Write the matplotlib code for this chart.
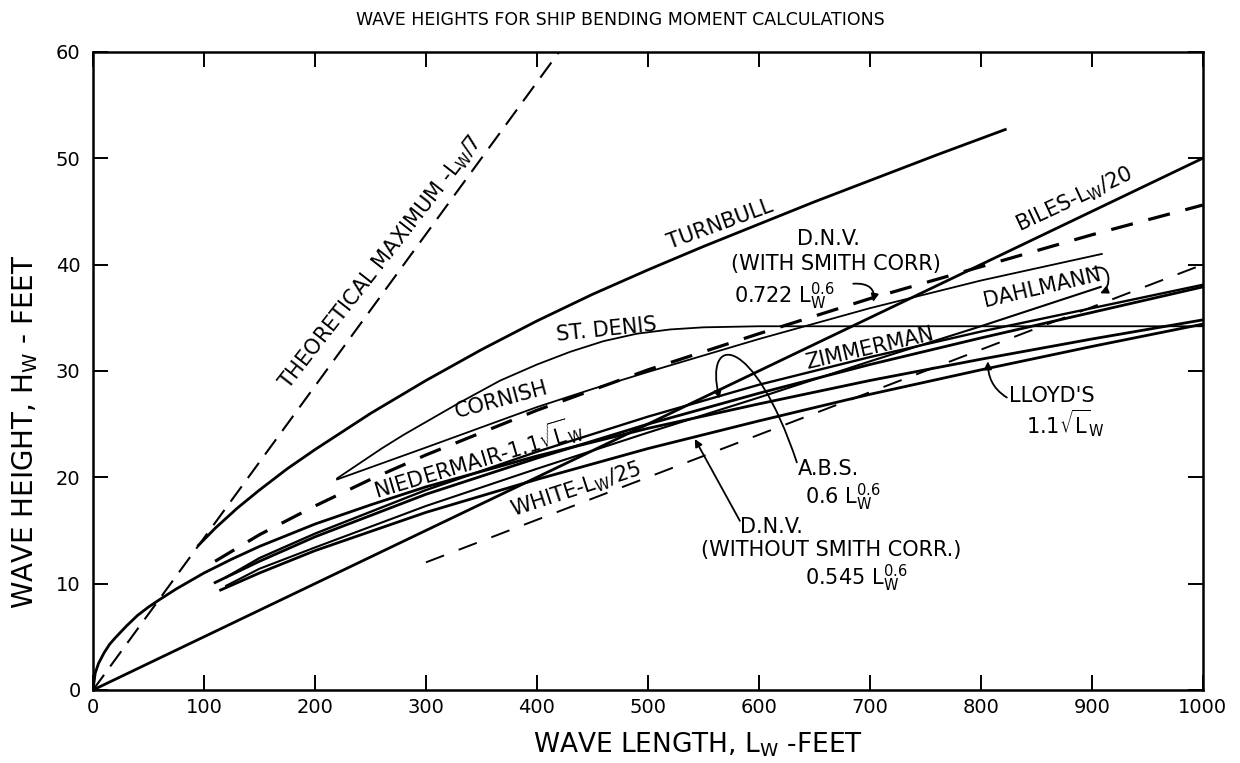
import matplotlib
matplotlib.use("Agg")
import matplotlib.pyplot as plt
from matplotlib.patches import FancyArrowPatch
from matplotlib.path import Path

# ---------------- data ----------------
theo_x = [0, 420]
theo_y = [0, 60]

biles_x = [0, 1000]
biles_y = [0, 50]

white_x = [300, 1000]
white_y = [12, 40]

lloyd_x = [0, 2, 5, 10, 15, 20, 30, 40, 50, 60, 75, 100, 125, 150, 200, 250, 300, 400, 500,
           600, 700, 800, 900, 1000]
lloyd_y = [0, 1.6, 2.5, 3.5, 4.3, 4.9, 6.0, 7.0, 7.8, 8.5, 9.5, 11.0, 12.3, 13.5, 15.6, 17.4,
           19.1, 22.0, 24.6, 26.9, 29.1, 31.1, 33.0, 34.8]

dnvs_x = [110, 150, 200, 250, 300, 400, 500, 600, 700, 800, 900, 1000]
dnvs_y = [12.1, 14.6, 17.3, 19.8, 22.1, 26.3, 30.1, 33.5, 36.8, 39.8, 42.8, 45.6]

abs_x = [110, 150, 200, 300, 400, 500, 600, 700, 800, 900, 1000]
abs_y = [10.1, 12.1, 14.4, 18.4, 21.8, 25.0, 27.9, 30.6, 33.1, 35.5, 37.9]

dnvw_x = [115, 150, 200, 300, 400, 500, 600, 700, 800, 900, 1000]
dnvw_y = [9.4, 11.0, 13.1, 16.7, 19.8, 22.7, 25.3, 27.8, 30.1, 32.3, 34.4]

turn_x = [95, 110, 130, 150, 175, 200, 250, 300, 350, 400, 450, 500, 550, 600, 650, 700, 760, 822]
turn_y = [13.6, 15.2, 17.1, 18.8, 20.8, 22.6, 26.0, 29.1, 32.0, 34.7, 37.2, 39.5, 41.7, 43.8,
          45.9, 47.9, 50.3, 52.7]

stden_x = [220, 240, 260, 280, 300, 330, 367, 400, 430, 460, 490, 520, 550, 600, 1000]
stden_y = [19.9, 21.3, 22.7, 24.0, 25.2, 27.0, 29.1, 30.6, 31.8, 32.8, 33.5, 33.9, 34.1, 34.2, 34.2]

corn_x = [220, 260, 300, 350, 400, 450, 500, 600, 700, 800, 909]
corn_y = [19.8, 21.3, 22.8, 24.7, 26.6, 28.3, 29.9, 33.0, 35.9, 38.5, 41.0]

zimm_x = [120, 150, 200, 300, 400, 500, 600, 700, 800, 900, 1000]
zimm_y = [10.6, 12.4, 14.7, 18.8, 22.4, 25.7, 28.7, 31.3, 33.7, 35.9, 38.1]

dahl_x = [120, 150, 200, 300, 400, 500, 600, 700, 800, 908]
dahl_y = [9.8, 11.4, 13.4, 17.3, 20.8, 24.2, 27.5, 30.9, 34.2, 37.9]

x_ticks = [0, 100, 200, 300, 400, 500, 600, 700, 800, 900, 1000]
y_ticks = [0, 10, 20, 30, 40, 50, 60]

# ---------------- figure ----------------
plt.rcParams['font.family'] = ['DejaVu Sans']
plt.rcParams['mathtext.fontset'] = 'dejavusans'

fig = plt.figure(figsize=(12.4, 7.63), dpi=100)
ax = fig.add_axes([0.075, 0.0957, 0.895, 0.8363])

K = 'black'
ax.plot(theo_x, theo_y, color=K, lw=1.5, dashes=(9, 5))
ax.plot(biles_x, biles_y, color=K, lw=2.0)
ax.plot(white_x, white_y, color=K, lw=1.4, dashes=(10, 8))
ax.plot(lloyd_x, lloyd_y, color=K, lw=2.0)
ax.plot(dnvs_x, dnvs_y, color=K, lw=2.3, dashes=(7, 5))
ax.plot(abs_x, abs_y, color=K, lw=2.0)
ax.plot(dnvw_x, dnvw_y, color=K, lw=2.0)
ax.plot(turn_x, turn_y, color=K, lw=2.0)
ax.plot(stden_x, stden_y, color=K, lw=1.3)
ax.plot(corn_x, corn_y, color=K, lw=1.3)
ax.plot(zimm_x, zimm_y, color=K, lw=1.7)
ax.plot(dahl_x, dahl_y, color=K, lw=1.5)

ax.set_xlim(0, 1000)
ax.set_ylim(0, 60)
ax.set_xticks(x_ticks)
ax.set_yticks(y_ticks)
ax.tick_params(direction='in', length=11, width=1.4, labelsize=14,
               top=True, right=True)
ax.tick_params(axis='x', pad=6)
ax.tick_params(axis='y', pad=9)
for s in ax.spines.values():
    s.set_linewidth(1.8)

ax.set_xlabel(r'WAVE LENGTH, L$_\mathregular{W}$ -FEET', fontsize=19)
ax.xaxis.label.set_verticalalignment('center')
ax.xaxis.set_label_coords(0.545, -0.086)
ax.set_ylabel(r'WAVE HEIGHT, H$_\mathregular{W}$ - FEET', fontsize=20)
ax.yaxis.label.set_verticalalignment('center')
ax.yaxis.label.set_horizontalalignment('center')
ax.yaxis.set_label_coords(-0.061, 0.404)
fig.text(0.5, 0.974, 'WAVE HEIGHTS FOR SHIP BENDING MOMENT CALCULATIONS',
         ha='center', va='center', fontsize=12.5)

def lab(x, y, s, rot=0, fs=15):
    ax.text(x, y, s, rotation=rot, ha='center', va='center', fontsize=fs,
            rotation_mode='anchor')

lab(259.5, 40.2, r'THEORETICAL MAXIMUM -L$_\mathregular{W}$/7', 52)
lab(565.0, 43.8, 'TURNBULL', 20)
lab(663.0, 42.4, 'D.N.V.', 0)
lab(669.4, 40.05, '(WITH SMITH CORR)', 0)
lab(623.4, 37.05, r'0.722 L$_\mathregular{W}^\mathregular{0.6}$', 0)
lab(463.0, 33.9, 'ST. DENIS', 6)
lab(368.5, 27.3, 'CORNISH', 15)
lab(347.0, 21.8, r'NIEDERMAIR-1.1$\sqrt{\mathregular{L}}_\mathregular{W}$', 16.5)
lab(435.0, 18.8, r'WHITE-L$_\mathregular{W}$/25', 18)
lab(700.0, 32.1, 'ZIMMERMAN', 13)
lab(855.0, 37.8, 'DAHLMANN', 13)
lab(883.8, 46.1, r'BILES-L$_\mathregular{W}$/20', 25)
lab(663.0, 20.8, 'A.B.S.', 0)
lab(675.7, 18.1, r'0.6 L$_\mathregular{W}^\mathregular{0.6}$', 0)
lab(611.7, 15.3, 'D.N.V.', 0)
lab(664.9, 13.2, '(WITHOUT SMITH CORR.)', 0)
lab(687.4, 10.5, r'0.545 L$_\mathregular{W}^\mathregular{0.6}$', 0)
lab(864.0, 27.65, "LLOYD'S", 0)
lab(875.7, 25.1, r'1.1$\sqrt{\mathregular{L}}_\mathregular{W}$', 0)


def leader(pts):
    if len(pts) == 2:
        codes = [Path.MOVETO, Path.LINETO]
    else:
        codes = [Path.MOVETO, Path.CURVE4, Path.CURVE4, Path.CURVE4]
    ax.add_patch(FancyArrowPatch(path=Path(pts, codes), arrowstyle='-|>',
                                 mutation_scale=11, color=K, lw=1.3,
                                 transform=ax.transData))

# D.N.V. without Smith correction
leader([(582.9, 15.9), (542.3, 23.6)])
# A.B.S. loop
leader([(634.2, 21.4), (595.0, 33.6), (550.0, 33.6), (564.5, 27.4)])
# Lloyd's
leader([(823.4, 27.5), (810.0, 28.4), (806.5, 29.5), (806.3, 30.9)])
# Dahlmann
leader([(901.0, 39.6), (918.0, 40.3), (918.0, 37.8), (907.5, 37.3)])
# 0.722 (with Smith correction)
leader([(685.0, 38.2), (700.0, 38.3), (705.0, 37.6), (703.0, 36.5)])

fig.savefig('out.png', dpi=100)
